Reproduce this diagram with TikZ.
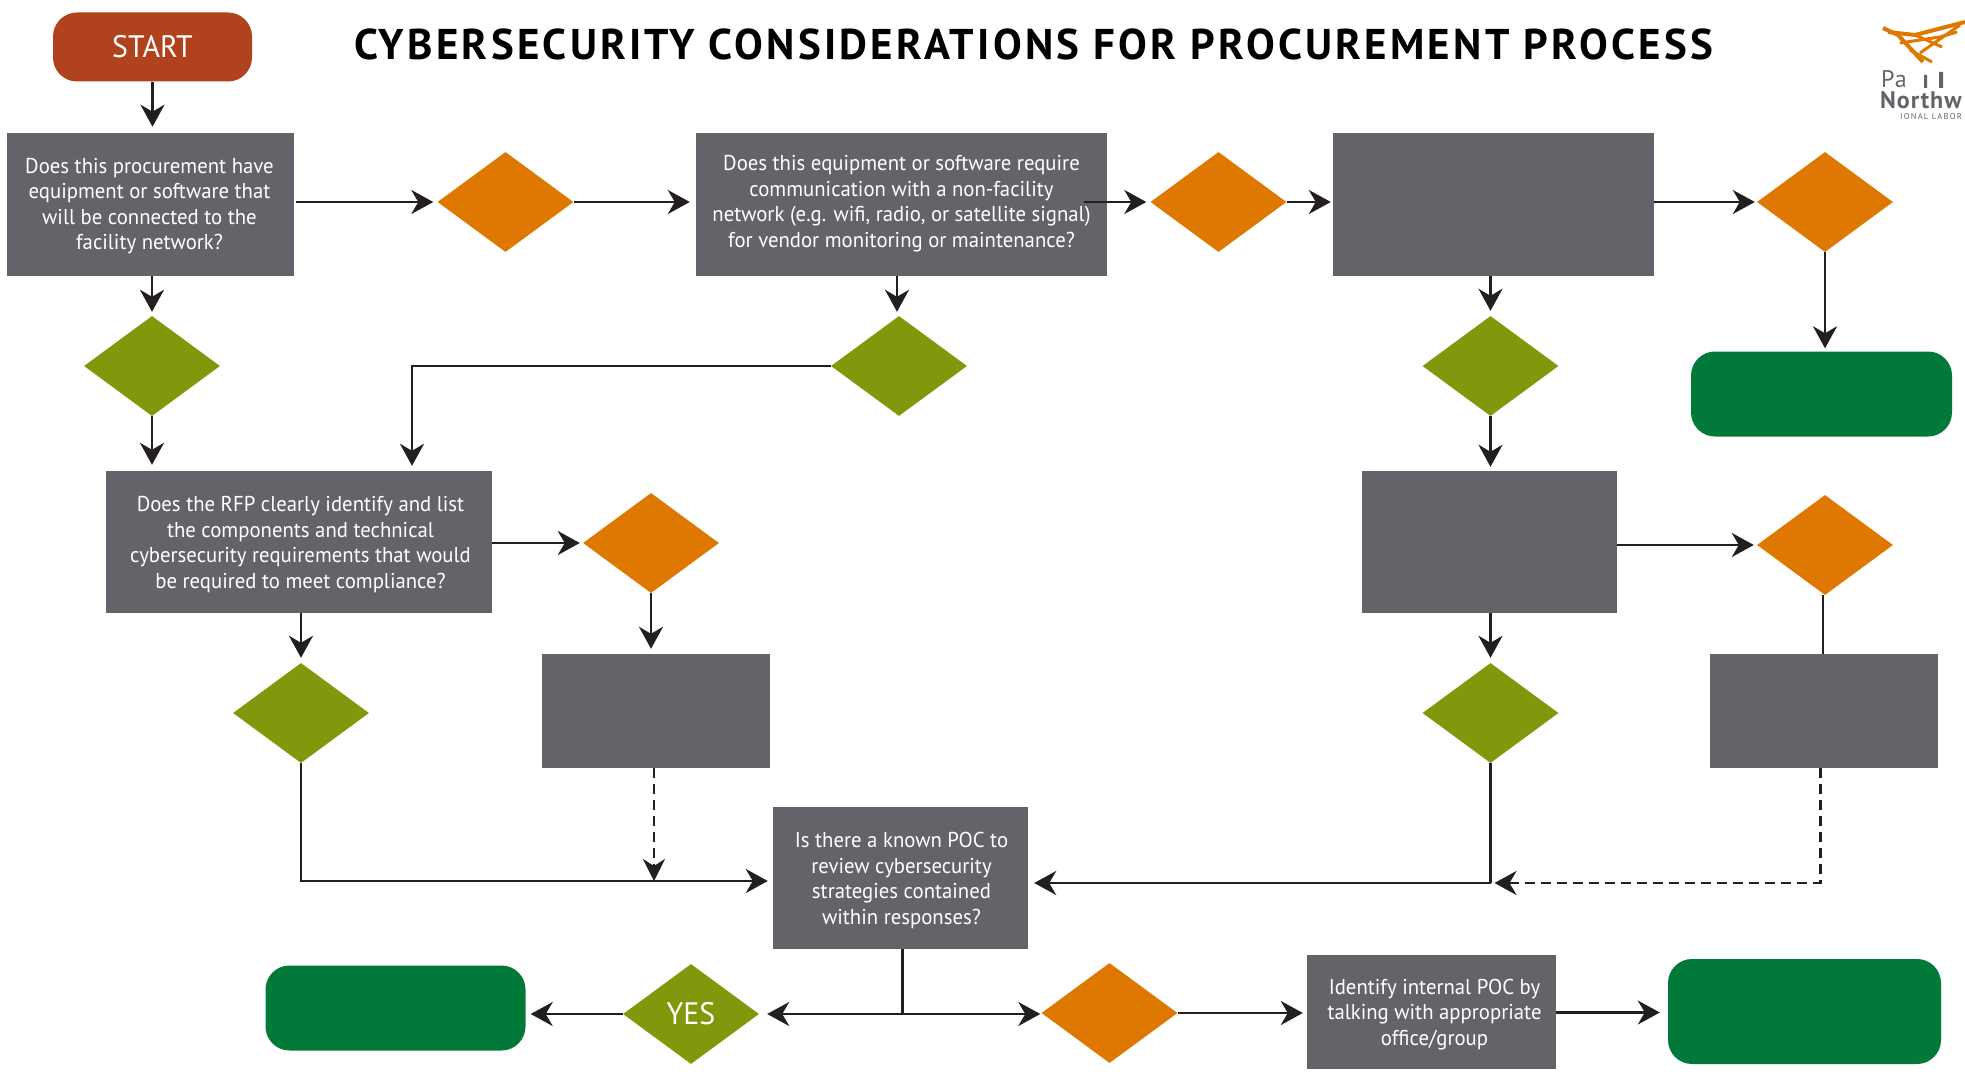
\documentclass[tikz,border=0pt]{standalone}
\usepackage{fontspec}
\setmainfont{PT Sans}
\newfontfamily\bodyfont[FakeStretch=0.965]{PT Sans}
\newfontfamily\titlefont[LetterSpace=7.5]{PT Sans}
\newfontfamily\logofont[LetterSpace=4]{PT Sans}
\newfontfamily\logosmall[LetterSpace=14]{PT Sans}
\usetikzlibrary{shapes.geometric,arrows.meta,calc}
\definecolor{gbox}{HTML}{636469}
\definecolor{orng}{HTML}{DF7800}
\definecolor{olive}{HTML}{82980C}
\definecolor{egreen}{HTML}{017A39}
\definecolor{rust}{HTML}{B0431E}
\definecolor{ink}{HTML}{231F20}
\tikzset{
 x=1pt,y=-1pt,
 gb/.style={fill=gbox,inner sep=0pt},
 txt/.style={text=white,inner sep=0pt,align=center,font=\bodyfont\fontsize{21.5}{25.5}\selectfont},
 od/.style={diamond,fill=orng,inner sep=0pt,aspect=1.36,minimum width=136pt,minimum height=100pt},
 gd/.style={diamond,fill=olive,inner sep=0pt,aspect=1.36,minimum width=136pt,minimum height=100pt,text=white,font=\bodyfont\fontsize{31}{32}\selectfont},
 term/.style={rounded corners=24pt,fill=egreen,inner sep=0pt},
 arr/.style={draw=ink,line width=2.8pt,-{Stealth[length=22pt,width=24pt,inset=7pt]}},
 plain/.style={draw=ink,line width=2.8pt},
 dsh/.style={draw=ink,line width=2.8pt,dash pattern=on 10pt off 6pt},
 dsharr/.style={dsh,-{Stealth[length=22pt,width=22pt,inset=7pt]}},
 logo/.style={draw=orng,line width=3pt},
}
\begin{document}
\begin{tikzpicture}
\useasboundingbox (0,0) rectangle (1965,1078);
\clip (0,0) rectangle (1965,1078);
% title
\node (title) at (1033.5,44) {\titlefont\bfseries\fontsize{43}{46}\selectfont CYBERSECURITY CONSIDERATIONS FOR PROCUREMENT PROCESS};
% start
\node (start) [fill=rust,rounded corners=24pt,text=white,minimum width=199pt,minimum height=69pt,inner sep=0pt,font=\bodyfont\fontsize{31}{32}\selectfont] at (152.5,47) {START};
% boxes
\node (b1) [gb,minimum width=287pt,minimum height=143pt] at (150.5,204.5) {};
\node (b2) [gb,minimum width=411pt,minimum height=143pt] at (901.5,204.5) {};
\node (b3) [gb,minimum width=321pt,minimum height=143pt] at (1493.5,204.5) {};
\node (b4) [gb,minimum width=386pt,minimum height=142pt] at (299,542) {};
\node (b5) [gb,minimum width=228pt,minimum height=114pt] at (656,711) {};
\node (b6) [gb,minimum width=255pt,minimum height=142pt] at (1489.5,542) {};
\node (b7) [gb,minimum width=228pt,minimum height=114pt] at (1824,711) {};
\node (b8) [gb,minimum width=255pt,minimum height=142pt] at (900.5,878) {};
\node (b9) [gb,minimum width=249pt,minimum height=114pt] at (1431.5,1012) {};
% box texts
\node (t1) [txt,xshift=-1pt,yshift=-1.5pt] at (b1) {Does this procurement have\\equipment or software that\\will be connected to the\\facility network?};
\node (t2) [txt,yshift=1pt] at (b2) {Does this equipment or software require\\communication with a non-facility\\network (e.g. wifi, radio, or satellite signal)\\for vendor monitoring or maintenance?};
\node (t4) [txt,xshift=1.5pt,yshift=-2.5pt] at (b4) {Does the RFP clearly identify and list\\the components and technical\\cybersecurity requirements that would\\be required to meet compliance?};
\node (t8) [txt,xshift=1pt,yshift=-2.5pt] at (b8) {Is there a known POC to\\review cybersecurity\\strategies contained\\within responses?};
\node (t9) [txt,xshift=3pt,yshift=-2.5pt] at (b9) {Identify internal POC by\\talking with appropriate\\office/group};
% terminals
\node (e1) [term,minimum width=261pt,minimum height=85pt] at (1821.5,394) {};
\node (e2) [term,minimum width=260pt,minimum height=85pt] at (395.5,1008) {};
\node (e3) [term,minimum width=273pt,minimum height=105pt] at (1804.5,1011.5) {};
% decisions
\node (o1) [od] at (505.5,202) {};
\node (o2) [od] at (1218.5,202) {};
\node (o3) [od] at (1825,202) {};
\node (o4) [od] at (651,543) {};
\node (o5) [od] at (1825,545) {};
\node (o6) [od] at (1109.5,1013) {};
\node (g1) [gd] at (152,366) {};
\node (g2) [gd] at (899,366) {};
\node (g3) [gd] at (1490.5,366) {};
\node (g4) [gd] at (301,713) {};
\node (g5) [gd] at (1490.5,713) {};
\node (g6) [gd] at (691,1014) {YES};
% helper points
\coordinate (j1) at (654,768);
\coordinate (j2) at (654,880);
\coordinate (j3) at (301,881);
\coordinate (j4) at (1490.5,883);
\coordinate (j5) at (1820.5,883);
\coordinate (j6) at (902.5,1014);
\coordinate (j7) at (412,366);
% connectors
\draw[arr] (start.south) -- ++(0,45);
\draw[arr] (b1.south -| g1.north) -- ([yshift=4pt]g1.north);
\draw[arr] (g1.south) -- ([yshift=6pt]b4.north -| g1.south);
\draw[arr] ([xshift=2pt]b1.east |- o1.west) -- ([xshift=-4pt]o1.west);
\draw[arr] (o1.east) -- ([xshift=-6pt]b2.west |- o1.east);
\draw[arr] ([xshift=-2pt]b2.south -| g2.north) -- ([xshift=-2pt,yshift=4pt]g2.north);
\draw[arr] (g2.west) -- (j7) -- ([yshift=5pt]b4.north -| j7);
\draw[arr] ([xshift=-23pt]b2.east |- o2.west) -- ([xshift=-4pt]o2.west);
\draw[arr] (o2.east) -- ([xshift=-2pt]b3.west |- o2.east);
\draw[arr] (b3.south -| g3.north) -- ([yshift=5pt]g3.north);
\draw[arr] (g3.south) -- ([yshift=4pt]b6.north -| g3.south);
\draw[arr] (b3.east |- o3.west) -- ([xshift=-2pt]o3.west);
\draw[arr] (o3.south) -- ([yshift=3pt]e1.north -| o3.south);
\draw[arr] (b4.east |- o4.west) -- ([xshift=-3pt]o4.west);
\draw[arr] (o4.south) -- ([yshift=5pt]b5.north -| o4.south);
\draw[arr] (b4.south -| g4.north) -- ([yshift=5pt]g4.north);
\draw[arr] (b6.east |- o5.west) -- ([xshift=-3pt]o5.west);
\draw[arr] (b6.south -| g5.north) -- ([yshift=5pt]g5.north);
\draw[plain] ([xshift=-2pt]o5.south) -- ([xshift=-2pt]b7.north -| o5.south);
\draw[dsharr] (j1) -- ([yshift=-1pt]j2);
\draw[arr] (g4.south) -- (j3) -- ([xshift=-5pt]b8.west |- j3);
\draw[plain] (g5.south) -- (j4);
\draw[arr] (j4) -- ([xshift=6pt]b8.east |- j4);
\draw[dsh] (b7.south -| j5) -- (j5) -- ([xshift=18pt]j4);
\draw[-{Stealth[length=22pt,width=24pt,inset=7pt]},draw=ink,line width=2.8pt] ([xshift=24pt]j4) -- ([xshift=4pt]j4);
\draw[plain] (b8.south -| j6) -- (j6);
\draw[arr] (j6) -- ([xshift=8pt]g6.east);
\draw[arr] (j6) -- ([xshift=-1pt]o6.west |- j6);
\draw[arr] (g6.west) -- ([xshift=5pt]e2.east |- g6.west);
\draw[arr] (o6.east) -- ([xshift=-4pt]b9.west |- o6.east);
\draw[arr] ([yshift=-1pt]b9.east |- e3.west) -- ([xshift=-8pt,yshift=-1pt]e3.west);
% logo
\draw[logo,line width=4pt] (1883,28) -- (1898,35) -- (1923,62);
\draw[logo,line width=4pt] (1965,22) -- (1915,35) -- (1888,32);
\draw[logo] (1960,25) -- (1920,53);
\draw[logo] (1900,43) -- (1940,37) -- (1957,32);
\draw[logo] (1910,50) -- (1932,62);
\draw[logo] (1915,35) -- (1942,47);
% logo text
\node (l1) [anchor=base west,inner sep=0pt,text=gbox,font=\logofont\fontsize{24}{24}\selectfont] at (1881,88) {Pa};
\fill[gbox] (1924,75) rectangle (1927,88) (1939,72) rectangle (1943,88);
\node (l2) [anchor=base west,inner sep=0pt,text=gbox,font=\logofont\bfseries\fontsize{24}{24}\selectfont] at (1880,108.5) {Northw};
\node (l3) [anchor=base west,inner sep=0pt,text=gbox,font=\logosmall\fontsize{8.5}{9}\selectfont] at (1900,120) {IONAL LABOR};
\end{tikzpicture}
\end{document}
